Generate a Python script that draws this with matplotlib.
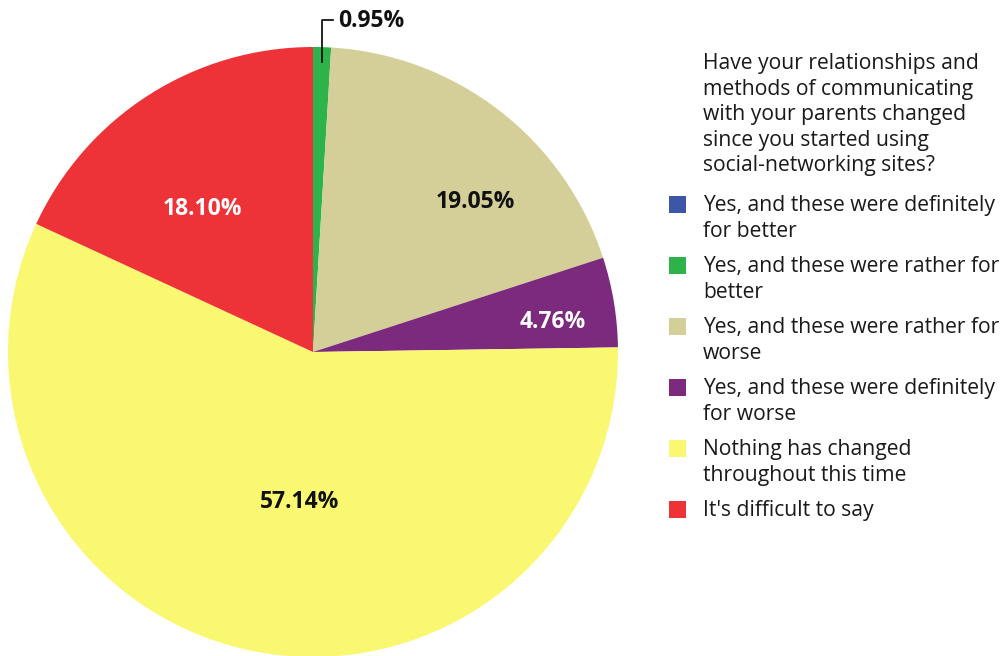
import matplotlib
matplotlib.use("Agg")
import matplotlib.pyplot as plt
from matplotlib.patches import Rectangle

plt.rcParams['font.family'] = ['Open Sans', 'DejaVu Sans']

# survey answers, clockwise from 12 o'clock
answers = ["Yes, and these were definitely\nfor better",
           "Yes, and these were rather for\nbetter",
           "Yes, and these were rather for\nworse",
           "Yes, and these were definitely\nfor worse",
           "Nothing has changed\nthroughout this time",
           "It's difficult to say"]
shares = [0.00, 0.95, 19.05, 4.76, 57.14, 18.10]
colors = ["#3D56A8", "#2DB34A", "#D4CE98", "#7B2A7E", "#FAF771", "#EE3338"]
title = ("Have your relationships and\nmethods of communicating\nwith your parents changed\n"
         "since you started using\nsocial-networking sites?")

W, H = 1001, 656
fig = plt.figure(figsize=(W / 100, H / 100), dpi=100)

# pie centre (313, 352) px, radius 305 px
cx, cy, r = 313, 352, 305
ax = fig.add_axes([(cx - r) / W, (H - cy - r) / H, 2 * r / W, 2 * r / H])
ax.pie(shares, colors=colors, startangle=90, counterclock=False, radius=1,
       wedgeprops=dict(linewidth=0))
ax.set_xlim(-1, 1)
ax.set_ylim(-1, 1)
ax.set_aspect('equal')
ax.axis('off')

# label spots inside the slices (fraction of radius)
lab_pos = [None, None, (0.531, 0.492), (0.787, 0.098), (-0.043, -0.492), (-0.361, 0.469)]
lab_col = [None, None, "#111111", "white", "#111111", "white"]
for v, p, c in zip(shares, lab_pos, lab_col):
    if p is None:
        continue
    ax.text(p[0], p[1], f"{v:.2f}%", ha='center', va='center', fontsize=16.5,
            fontweight='bold', color=c)

# small slice gets a leader line
ax.plot([0.030, 0.030, 0.066], [0.95, 1.088, 1.088], color='black', lw=1.2,
        clip_on=False)
ax.text(0.082, 1.085, f"{shares[1]:.2f}%", ha='left', va='center', fontsize=16.5,
        fontweight='bold', color='#111111')

# legend block on the right
fs = 15.2
ls = 1.285
fig.text(703 / W, 1 - 53 / H, title, ha='left', va='top', fontsize=fs,
         linespacing=ls, color='#1a1a1a')
y0 = 204
for i, (lab, c) in enumerate(zip(answers, colors)):
    yc = y0 + i * 61
    fig.patches.append(Rectangle((669 / W, 1 - (yc + 9) / H), 17 / W, 17 / H,
                                 transform=fig.transFigure, facecolor=c,
                                 edgecolor='none'))
    fig.text(703 / W, 1 - (yc - 9) / H, lab, ha='left', va='top', fontsize=fs,
             linespacing=ls, color='#1a1a1a')

fig.savefig("out.png", dpi=100)
